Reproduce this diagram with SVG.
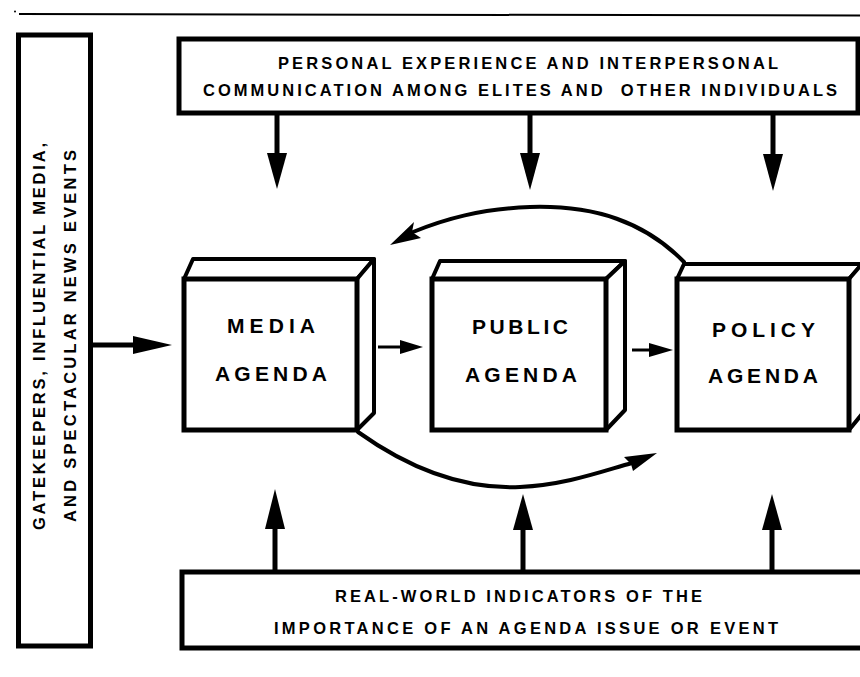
<svg xmlns="http://www.w3.org/2000/svg" width="860" height="677" viewBox="0 0 860 677">
  <defs>
    <style>
      .frame { fill: #fff; stroke: #000; stroke-width: 5; stroke-linejoin: miter; }
      .face { fill: #fff; stroke: #000; stroke-width: 4; stroke-linejoin: round; }
      .shaft { fill: none; stroke: #000; stroke-width: 5; }
      .thin { fill: none; stroke: #000; stroke-width: 3; }
      .curve { fill: none; stroke: #000; stroke-width: 4; stroke-linecap: round; }
      .head { fill: #000; stroke: none; }
      .lbl { font-family: "Liberation Sans", Arial, Helvetica, sans-serif; font-weight: bold; fill: #000; }
      .small { font-size: 16.5px; }
      .big { font-size: 21px; }
    </style>
  </defs>

  <!-- rule across the top of the page -->
  <line x1="19" y1="14" x2="860" y2="15.5" stroke="#000" stroke-width="2"/>
  <circle cx="15" cy="11.5" r="1" fill="#000"/>

  <!-- left source box (rotated label) -->
  <g id="gatekeepers">
    <rect class="frame" x="18.5" y="35" width="72" height="611"/>
    <text class="lbl small" transform="translate(45,530) rotate(-90)" textLength="387" lengthAdjust="spacing">GATEKEEPERS, INFLUENTIAL MEDIA,</text>
    <text class="lbl small" transform="translate(76,522) rotate(-90)" textLength="372" lengthAdjust="spacing">AND SPECTACULAR NEWS EVENTS</text>
  </g>

  <!-- top source box -->
  <g id="personal-experience">
    <rect class="frame" x="179" y="39" width="679" height="74"/>
    <text class="lbl small" x="278" y="69" textLength="500" lengthAdjust="spacing">PERSONAL EXPERIENCE AND INTERPERSONAL</text>
    <text class="lbl small" x="203" y="96" textLength="634" lengthAdjust="spacing" xml:space="preserve">COMMUNICATION AMONG ELITES AND  OTHER INDIVIDUALS</text>
  </g>

  <!-- bottom source box -->
  <g id="real-world-indicators">
    <rect class="frame" x="182" y="572" width="700" height="76"/>
    <text class="lbl small" x="335" y="602" textLength="367" lengthAdjust="spacing">REAL-WORLD INDICATORS OF THE</text>
    <text class="lbl small" x="274" y="634" textLength="504" lengthAdjust="spacing">IMPORTANCE OF AN AGENDA ISSUE OR EVENT</text>
  </g>

  <!-- agenda blocks drawn as boxes with top and side faces -->
  <g id="media-agenda">
    <polygon class="face" points="184,279 193,259 374,259 357,279"/>
    <polygon class="face" points="357,279 374,259 374,413 357,430"/>
    <rect class="frame" x="184" y="279" width="173" height="151"/>
    <text class="lbl big" x="227" y="333" textLength="88" lengthAdjust="spacing">MEDIA</text>
    <text class="lbl big" x="215" y="381" textLength="112" lengthAdjust="spacing">AGENDA</text>
  </g>

  <g id="public-agenda">
    <polygon class="face" points="432,279 440,261 625,261 606,279"/>
    <polygon class="face" points="606,279 625,261 625,410 606,430"/>
    <rect class="frame" x="432" y="279" width="174" height="151"/>
    <text class="lbl big" x="472" y="334" textLength="96" lengthAdjust="spacing">PUBLIC</text>
    <text class="lbl big" x="465" y="382" textLength="112" lengthAdjust="spacing">AGENDA</text>
  </g>

  <g id="policy-agenda">
    <polygon class="face" points="677,279 684,264 862,264 849,279"/>
    <polygon class="face" points="849,279 862,264 862,414 849,430"/>
    <rect class="frame" x="677" y="279" width="172" height="151"/>
    <text class="lbl big" x="712" y="337" textLength="103" lengthAdjust="spacing">POLICY</text>
    <text class="lbl big" x="708" y="383" textLength="110" lengthAdjust="spacing">AGENDA</text>
  </g>

  <!-- connectors -->
  <g id="connectors">
    <!-- from the top box down to each agenda -->
    <line class="shaft" x1="277" y1="113" x2="277" y2="156"/>
    <polygon class="head" points="267,153 287,153 277,189"/>
    <line class="shaft" x1="530" y1="113" x2="530" y2="156"/>
    <polygon class="head" points="520,153 540,153 530,190"/>
    <line class="shaft" x1="773" y1="113" x2="773" y2="156"/>
    <polygon class="head" points="763,154 783,154 773,191"/>

    <!-- from the bottom box up to each agenda -->
    <line class="shaft" x1="275" y1="572" x2="275" y2="526"/>
    <polygon class="head" points="265,529 285,529 275,489"/>
    <line class="shaft" x1="523" y1="572" x2="523" y2="527"/>
    <polygon class="head" points="513,530 533,530 523,494"/>
    <line class="shaft" x1="772" y1="572" x2="772" y2="527"/>
    <polygon class="head" points="762,530 782,530 772,494"/>

    <!-- left box into media agenda -->
    <line class="shaft" x1="91" y1="345" x2="136" y2="345"/>
    <polygon class="head" points="133,336 133,354 172,345"/>

    <!-- media to public, public to policy -->
    <line class="thin" x1="378" y1="347" x2="404" y2="347"/>
    <polygon class="head" points="400,340 400,354 423,347"/>
    <line class="thin" x1="632" y1="350" x2="653" y2="350"/>
    <polygon class="head" points="649,343 649,357 673,350"/>

    <!-- policy agenda back to media agenda -->
    <path class="curve" d="M684,262 C645,222 595,205 530,207 C480,209 445,219 413,232"/>
    <polygon class="head" points="390,245 414,222 412,232 421,238"/>

    <!-- media agenda on to policy agenda -->
    <path class="curve" d="M358,432 C400,462 455,490 520,487 C565,485 600,472 632,463"/>
    <polygon class="head" points="657,453 624,457 631,464 633,471"/>
  </g>
</svg>
